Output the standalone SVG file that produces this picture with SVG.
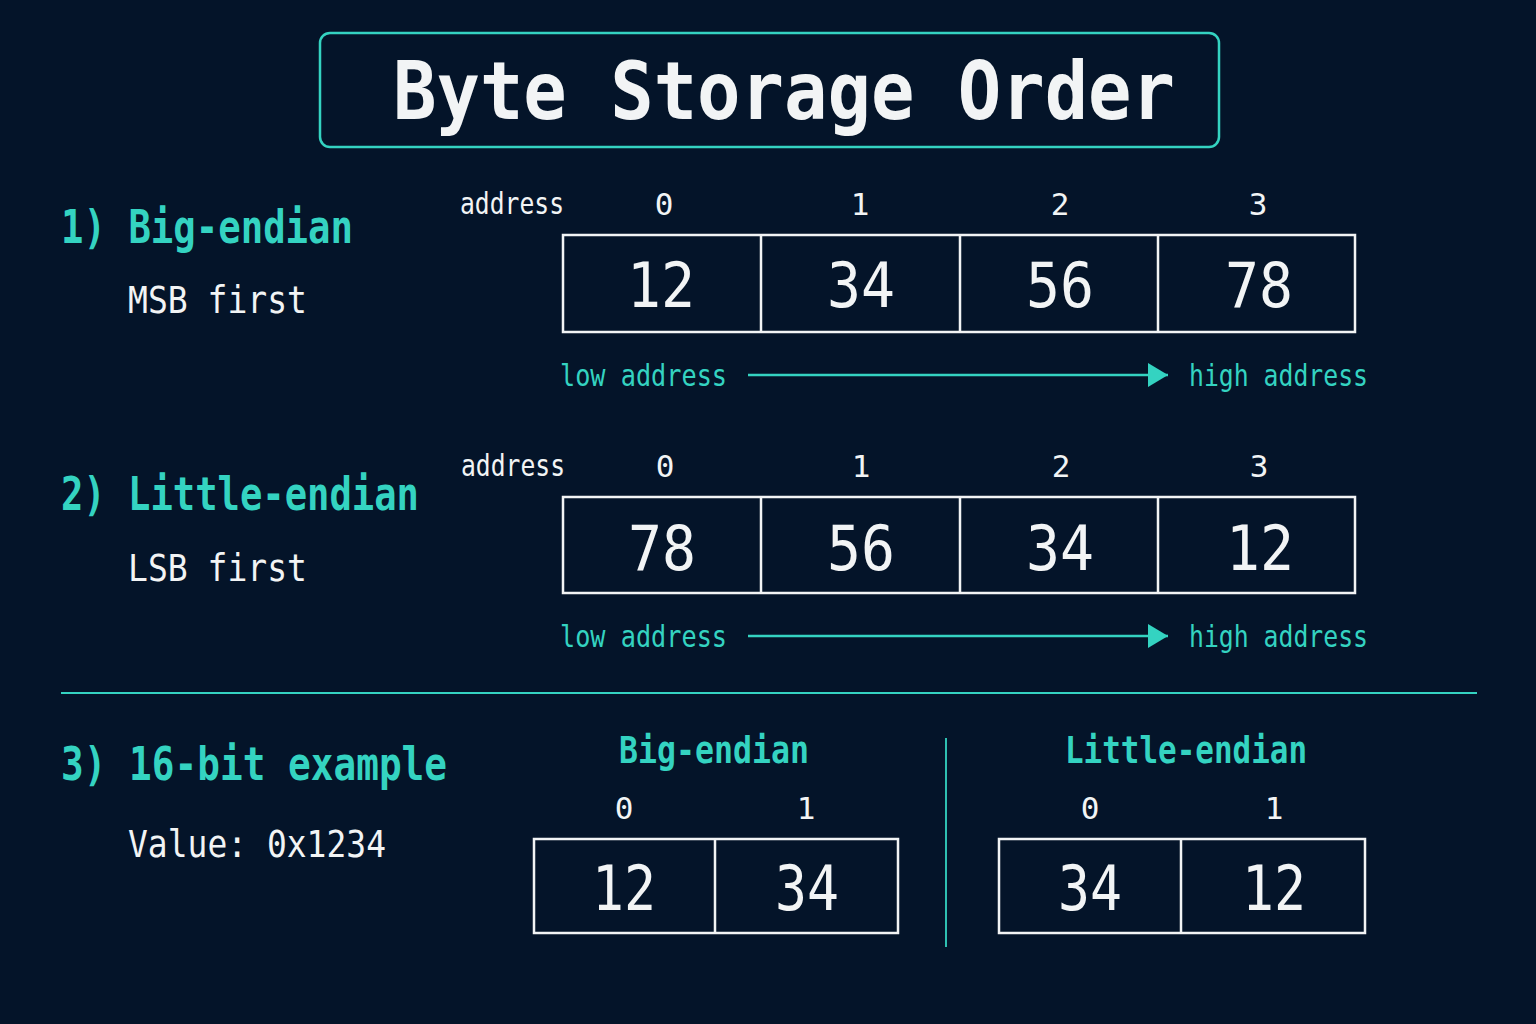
<svg xmlns="http://www.w3.org/2000/svg" width="1536" height="1024" viewBox="0 0 1536 1024">
<defs>
<style>
text{font-family:"DejaVu Sans Mono","Liberation Mono",monospace;}
.teal{fill:#34d3c1;}
.white{fill:#f2f4f5;}
.title{font-size:80px;font-weight:bold;}
.head{font-size:37px;font-weight:bold;}
.sub{font-size:37px;}
.addr{font-size:30px;}
.idx{font-size:31px;text-anchor:middle;}
.byte{font-size:62px;text-anchor:middle;}
.cell{fill:none;stroke:#f2f4f5;stroke-width:2.5;}
.tline{stroke:#34d3c1;stroke-width:2.5;fill:none;}
</style>
<marker id="ah2" viewBox="0 0 20 24" refX="20" refY="12" markerWidth="20" markerHeight="24" markerUnits="userSpaceOnUse" orient="auto">
<path d="M0,0 L20,12 L0,24 z" fill="#34d3c1"/>
</marker>
</defs>
<rect x="0" y="0" width="1536" height="1024" fill="#041429"/>

<g id="title">
<rect x="320" y="33" width="899" height="114" rx="10" fill="none" stroke="#34d3c1" stroke-width="2.5"/>
<text x="393" y="119" class="white title" textLength="782" lengthAdjust="spacingAndGlyphs">Byte Storage Order</text>
</g>

<g id="section1">
<text transform="translate(61,243) scale(1,1.25)" x="0" y="0" class="teal head" textLength="292" lengthAdjust="spacingAndGlyphs">1) Big-endian</text>
<text x="128" y="313" class="white sub" textLength="179" lengthAdjust="spacingAndGlyphs">MSB first</text>
<text x="460" y="214" class="white addr" textLength="104" lengthAdjust="spacingAndGlyphs">address</text>
<text x="664" y="215" class="white idx">0</text>
<text x="860" y="215" class="white idx">1</text>
<text x="1060" y="215" class="white idx">2</text>
<text x="1258" y="215" class="white idx">3</text>
</g>
<g id="be-bytes">
<rect x="563" y="235" width="792" height="97" class="cell"/>
<line x1="761" y1="235" x2="761" y2="332" class="cell"/>
<line x1="960" y1="235" x2="960" y2="332" class="cell"/>
<line x1="1158" y1="235" x2="1158" y2="332" class="cell"/>
<text x="661" y="307" class="white byte" textLength="68" lengthAdjust="spacingAndGlyphs">12</text>
<text x="861" y="307" class="white byte" textLength="68" lengthAdjust="spacingAndGlyphs">34</text>
<text x="1060" y="307" class="white byte" textLength="68" lengthAdjust="spacingAndGlyphs">56</text>
<text x="1259" y="307" class="white byte" textLength="68" lengthAdjust="spacingAndGlyphs">78</text>
</g>
<g id="be-axis">
<text x="560" y="386" class="teal addr" textLength="167" lengthAdjust="spacingAndGlyphs">low address</text>
<text x="1189" y="386" class="teal addr" textLength="179" lengthAdjust="spacingAndGlyphs">high address</text>
</g>

<g id="section2">
<text transform="translate(61,510) scale(1,1.25)" x="0" y="0" class="teal head" textLength="358" lengthAdjust="spacingAndGlyphs">2) Little-endian</text>
<text x="128" y="581" class="white sub" textLength="179" lengthAdjust="spacingAndGlyphs">LSB first</text>
<text x="461" y="476" class="white addr" textLength="104" lengthAdjust="spacingAndGlyphs">address</text>
<text x="665" y="477" class="white idx">0</text>
<text x="861" y="477" class="white idx">1</text>
<text x="1061" y="477" class="white idx">2</text>
<text x="1259" y="477" class="white idx">3</text>
</g>
<g id="le-bytes">
<rect x="563" y="497" width="792" height="96" class="cell"/>
<line x1="761" y1="497" x2="761" y2="593" class="cell"/>
<line x1="960" y1="497" x2="960" y2="593" class="cell"/>
<line x1="1158" y1="497" x2="1158" y2="593" class="cell"/>
<text x="662" y="570" class="white byte" textLength="68" lengthAdjust="spacingAndGlyphs">78</text>
<text x="861" y="570" class="white byte" textLength="68" lengthAdjust="spacingAndGlyphs">56</text>
<text x="1060" y="570" class="white byte" textLength="68" lengthAdjust="spacingAndGlyphs">34</text>
<text x="1260" y="570" class="white byte" textLength="68" lengthAdjust="spacingAndGlyphs">12</text>
</g>
<g id="le-axis">
<text x="560" y="647" class="teal addr" textLength="167" lengthAdjust="spacingAndGlyphs">low address</text>
<text x="1189" y="647" class="teal addr" textLength="179" lengthAdjust="spacingAndGlyphs">high address</text>
</g>

<g id="connectors">
<line x1="748" y1="375" x2="1168" y2="375" class="tline" marker-end="url(#ah2)"/>
<line x1="748" y1="636" x2="1168" y2="636" class="tline" marker-end="url(#ah2)"/>
<line x1="61" y1="693" x2="1477" y2="693" stroke="#34d3c1" stroke-width="1.8"/>
<line x1="946" y1="738" x2="946" y2="947" stroke="#34d3c1" stroke-width="1.8"/>
</g>

<g id="section3">
<text transform="translate(61,780) scale(1,1.25)" x="0" y="0" class="teal head" textLength="386" lengthAdjust="spacingAndGlyphs">3) 16-bit example</text>
<text x="128" y="857" class="white sub" textLength="258" lengthAdjust="spacingAndGlyphs">Value: 0x1234</text>
</g>
<g id="ex-big">
<text x="714" y="763" class="teal" style="font-size:38px;font-weight:bold;text-anchor:middle" textLength="190" lengthAdjust="spacingAndGlyphs">Big-endian</text>
<text x="624" y="819" class="white idx">0</text>
<text x="806" y="819" class="white idx">1</text>
<rect x="534" y="839" width="364" height="94" class="cell"/>
<line x1="715" y1="839" x2="715" y2="933" class="cell"/>
<text x="624" y="910" class="white byte" textLength="64" lengthAdjust="spacingAndGlyphs">12</text>
<text x="807" y="910" class="white byte" textLength="64" lengthAdjust="spacingAndGlyphs">34</text>
</g>
<g id="ex-little">
<text x="1186" y="763" class="teal" style="font-size:38px;font-weight:bold;text-anchor:middle" textLength="242" lengthAdjust="spacingAndGlyphs">Little-endian</text>
<text x="1090" y="819" class="white idx">0</text>
<text x="1274" y="819" class="white idx">1</text>
<rect x="999" y="839" width="366" height="94" class="cell"/>
<line x1="1181" y1="839" x2="1181" y2="933" class="cell"/>
<text x="1090" y="910" class="white byte" textLength="64" lengthAdjust="spacingAndGlyphs">34</text>
<text x="1274" y="910" class="white byte" textLength="64" lengthAdjust="spacingAndGlyphs">12</text>
</g>
</svg>
